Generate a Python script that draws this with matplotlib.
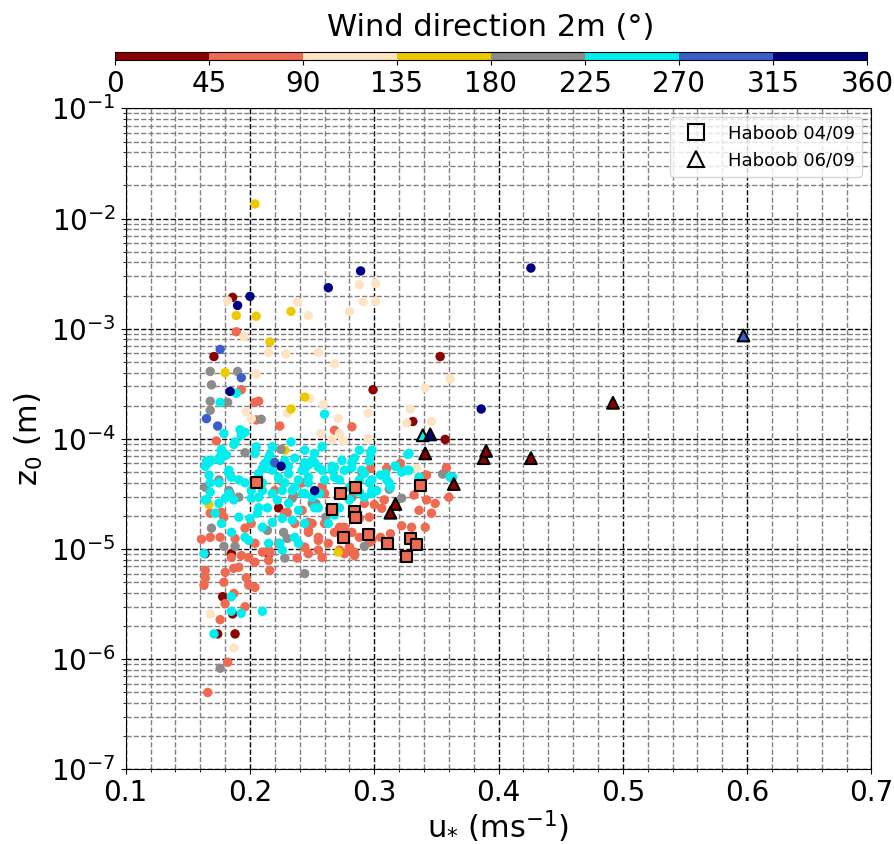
import numpy as np
import matplotlib
matplotlib.use("Agg")
import matplotlib.pyplot as plt
from matplotlib.colors import ListedColormap, BoundaryNorm
from matplotlib.lines import Line2D
from matplotlib.ticker import MultipleLocator, LogLocator, NullFormatter

# wind direction sectors (deg) and their colours
sector_edges = [0, 45, 90, 135, 180, 225, 270, 315, 360]
sector_colors = ['#8b0000', '#ee6a50', '#ffe4c4', '#eec900',
                 '#8c8c8c', '#00eeee', '#3a5fcd', '#000080']

# ---- u* (m/s) and z0 (m), grouped by wind-direction sector ----
# 0-45
u_000 = [0.186, 0.171, 0.353, 0.299, 0.331, 0.357, 0.223, 0.164, 0.185, 0.215,
         0.178, 0.186, 0.174, 0.188]
z_000 = [1.93e-3, 5.6e-4, 5.6e-4, 2.8e-4, 1.44e-4, 9.9e-5, 2.37e-5, 9.1e-6, 9.1e-6, 9.0e-6,
         3.7e-6, 2.58e-6, 1.7e-6, 1.7e-6]
# 45-90
u_045 = [0.189, 0.193, 0.204, 0.207, 0.205, 0.224, 0.173, 0.215, 0.282, 0.268, 0.358, 0.321,
         0.168, 0.177, 0.179, 0.176, 0.161, 0.168, 0.188, 0.196, 0.201,
         0.220, 0.230, 0.242, 0.247, 0.247, 0.244, 0.238,
         0.193, 0.199, 0.204, 0.191, 0.187, 0.180, 0.164, 0.164, 0.163, 0.179, 0.197, 0.199,
         0.204, 0.215, 0.216, 0.210, 0.216, 0.187, 0.180, 0.196, 0.176, 0.182, 0.166,
         0.228, 0.236, 0.255, 0.260, 0.272, 0.276, 0.280, 0.284, 0.272, 0.255, 0.247, 0.223,
         0.215, 0.204, 0.185,
         0.242, 0.258, 0.292, 0.300, 0.308, 0.306, 0.296, 0.288, 0.276, 0.268, 0.282, 0.250,
         0.247, 0.255, 0.244, 0.258, 0.280, 0.284, 0.296, 0.305, 0.313, 0.322, 0.330, 0.341,
         0.336, 0.342, 0.349, 0.332, 0.360, 0.346, 0.342, 0.298, 0.288, 0.263, 0.276,
         0.235, 0.260, 0.290, 0.310, 0.297, 0.226]
z_045 = [9.4e-4, 2.8e-4, 2.15e-4, 2.2e-4, 1.49e-4, 1.31e-4, 9.6e-5, 6.3e-5, 1.29e-4, 1.2e-4, 5.5e-5, 6.0e-5,
         2.12e-5, 2.16e-5, 1.95e-5, 1.28e-5, 1.23e-5, 1.28e-5, 1.25e-5, 1.55e-5, 1.71e-5,
         3.4e-5, 2.16e-5, 2.25e-5, 1.75e-5, 1.48e-5, 1.04e-5, 8.3e-6,
         8.75e-6, 8.4e-6, 7.6e-6, 6.85e-6, 6.7e-6, 6.15e-6, 6.4e-6, 5.45e-6, 4.7e-6, 5.0e-6, 5.5e-6, 4.7e-6,
         4.5e-6, 7.9e-6, 6.4e-6, 9.4e-6, 9.4e-6, 3.96e-6, 3.2e-6, 3.0e-6, 2.29e-6, 9.4e-7, 5.0e-7,
         2.12e-5, 1.71e-5, 1.2e-5, 1.71e-5, 1.58e-5, 1.28e-5, 1.04e-5, 9.4e-6, 9.8e-6, 9.8e-6, 9.1e-6, 1.13e-5,
         9.8e-6, 1.13e-5, 8.4e-6,
         4.0e-5, 3.65e-5, 2.6e-5, 2.54e-5, 2.8e-5, 2.35e-5, 1.95e-5, 1.9e-5, 1.58e-5, 1.42e-5, 1.42e-5, 1.71e-5,
         1.42e-5, 1.28e-5, 1.04e-5, 8.4e-6, 1.04e-5, 8.75e-6, 1.15e-5, 1.28e-5, 1.38e-5, 1.63e-5, 1.58e-5, 1.58e-5,
         2.25e-5, 2.8e-5, 2.6e-5, 3.1e-5, 2.96e-5, 2.12e-5, 4.7e-5, 1.2e-5, 1.28e-5, 1.13e-5, 9.1e-6,
         3.1e-5, 3.2e-5, 4.95e-5, 5.4e-5, 5.4e-5, 4.1e-5]
# 90-135
u_090 = [0.288, 0.301, 0.182, 0.238, 0.247, 0.280, 0.291, 0.301, 0.195, 0.215, 0.229, 0.255,
         0.268, 0.361, 0.205, 0.341, 0.248, 0.230, 0.197, 0.201, 0.259, 0.271, 0.295, 0.272,
         0.257, 0.275, 0.266, 0.295, 0.329, 0.326, 0.346, 0.205, 0.230, 0.334, 0.205, 0.168, 0.187]
z_090 = [2.52e-3, 2.58e-3, 1.79e-3, 1.75e-3, 1.32e-3, 1.44e-3, 1.75e-3, 1.78e-3, 8.5e-4, 6.1e-4, 5.9e-4, 6.1e-4,
         4.8e-4, 3.5e-4, 3.9e-4, 2.9e-4, 2.34e-4, 1.72e-4, 1.77e-4, 1.53e-4, 2.06e-4, 1.53e-4, 1.72e-4, 1.12e-4,
         1.12e-4, 9.6e-5, 9.8e-5, 1.01e-4, 1.87e-4, 1.4e-4, 1.44e-4, 7.15e-5, 4.5e-5, 5.4e-5, 2.7e-5, 2.58e-6, 1.27e-6]
# 135-180
u_135 = [0.204, 0.189, 0.205, 0.233, 0.216, 0.180, 0.244, 0.233, 0.228, 0.167, 0.271]
z_135 = [1.36e-2, 1.32e-3, 1.30e-3, 1.44e-3, 7.6e-4, 4.0e-4, 2.4e-4, 1.87e-4, 7.9e-5, 2.54e-5, 9.4e-6]
# 180-225
u_180 = [0.168, 0.190, 0.169, 0.168, 0.182, 0.168, 0.209, 0.196, 0.225, 0.164, 0.175, 0.183,
         0.184, 0.191, 0.169, 0.214, 0.227, 0.230, 0.228, 0.244, 0.179, 0.188, 0.176, 0.253,
         0.261, 0.282, 0.322, 0.292, 0.355, 0.312, 0.234, 0.250]
z_180 = [4.1e-4, 4.1e-4, 3.1e-4, 2.2e-4, 2.15e-4, 1.82e-4, 1.51e-4, 7.5e-5, 8.05e-5, 3.65e-5, 4.25e-5, 3.4e-5,
         3.2e-5, 2.96e-5, 1.55e-5, 1.48e-5, 1.42e-5, 1.25e-5, 8.3e-6, 6.0e-6, 1.06e-5, 1.06e-5, 8.3e-7, 2.6e-5,
         1.95e-5, 2.96e-5, 2.9e-5, 1.06e-5, 4.8e-5, 3.5e-5, 2.9e-5, 2.6e-5]
# 225-270
u_225 = [0.189, 0.176, 0.179, 0.192, 0.196, 0.188, 0.187, 0.177, 0.181, 0.176, 0.165, 0.169,
         0.205, 0.218, 0.216, 0.215, 0.210, 0.233, 0.231, 0.244, 0.247, 0.260, 0.327, 0.363,
         0.167, 0.176, 0.183, 0.167, 0.175, 0.168, 0.164, 0.180, 0.187, 0.177, 0.185, 0.191,
         0.200, 0.206, 0.196, 0.199, 0.210, 0.218, 0.215, 0.224, 0.226, 0.236, 0.239,
         0.211, 0.218, 0.223, 0.231, 0.242, 0.247, 0.210, 0.218, 0.226, 0.236, 0.244, 0.214,
         0.222, 0.231, 0.239, 0.226, 0.234, 0.244, 0.207, 0.201, 0.207,
         0.163, 0.185, 0.185, 0.193, 0.210, 0.171,
         0.244, 0.252, 0.258, 0.247, 0.266, 0.268, 0.276, 0.282, 0.292, 0.296, 0.288, 0.305,
         0.310, 0.313, 0.317, 0.322, 0.328, 0.242, 0.250, 0.256, 0.272, 0.268, 0.255, 0.263,
         0.280, 0.288, 0.292, 0.298, 0.302, 0.252,
         0.282, 0.290, 0.297, 0.296, 0.280, 0.272, 0.266, 0.260, 0.255, 0.250, 0.243, 0.239,
         0.234, 0.228, 0.223, 0.212, 0.207, 0.210, 0.201, 0.196, 0.191, 0.185, 0.183, 0.204,
         0.215, 0.228, 0.236, 0.244, 0.252, 0.258, 0.268, 0.274, 0.284, 0.298, 0.309, 0.312,
         0.317, 0.328, 0.326, 0.336, 0.288, 0.298, 0.361, 0.336, 0.338, 0.298,
         0.164, 0.177, 0.193, 0.168, 0.165, 0.175, 0.172, 0.183]
z_225 = [2.6e-4, 2.15e-4, 1.12e-4, 1.21e-4, 1.15e-4, 9.4e-5, 8.9e-5, 8.05e-5, 7.15e-5, 6.9e-5, 6.3e-5, 6.4e-5,
         8.5e-5, 8.5e-5, 7.15e-5, 6.1e-5, 5.4e-5, 9.4e-5, 5.65e-5, 5.4e-5, 5.8e-5, 1.68e-4, 7.25e-5, 4.5e-5,
         6.1e-5, 6.4e-5, 4.85e-5, 4.7e-5, 4.0e-5, 3.3e-5, 2.8e-5, 2.9e-5, 2.8e-5, 1.71e-5, 1.42e-5, 1.95e-5,
         1.9e-5, 2.12e-5, 1.28e-5, 1.2e-5, 1.58e-5, 1.75e-5, 1.13e-5, 1.13e-5, 9.8e-6, 1.28e-5, 1.13e-5,
         5.4e-5, 5.2e-5, 4.4e-5, 4.85e-5, 5.2e-5, 4.0e-5, 3.4e-5, 3.2e-5, 3.4e-5, 3.65e-5, 3.2e-5, 2.37e-5,
         2.8e-5, 2.6e-5, 2.25e-5, 1.9e-5, 1.83e-5, 1.71e-5, 2.96e-5, 2.9e-5, 2.37e-5,
         9.1e-6, 3.7e-6, 2.73e-6, 2.62e-6, 2.73e-6, 1.7e-6,
         6.1e-5, 6.1e-5, 5.2e-5, 4.5e-5, 5.65e-5, 4.5e-5, 5.2e-5, 6.1e-5, 4.85e-5, 4.0e-5, 4.25e-5, 4.7e-5,
         4.25e-5, 3.65e-5, 5.65e-5, 5.0e-5, 5.2e-5, 3.2e-5, 2.96e-5, 3.2e-5, 2.37e-5, 2.04e-5, 2.37e-5, 1.71e-5,
         2.8e-5, 3.3e-5, 2.96e-5, 3.2e-5, 3.4e-5, 2.37e-5,
         5.5e-5, 5.2e-5, 7.4e-5, 6.3e-5, 3.65e-5, 4.25e-5, 5.2e-5, 4.25e-5, 5.55e-5, 6.4e-5, 5.2e-5, 4.25e-5,
         3.4e-5, 4.0e-5, 4.5e-5, 6.0e-5, 4.85e-5, 4.0e-5, 3.4e-5, 4.0e-5, 4.25e-5, 4.5e-5, 5.2e-5, 7.4e-5,
         6.7e-5, 6.4e-5, 6.7e-5, 7.9e-5, 7.4e-5, 8.5e-5, 5.5e-5, 6.4e-5, 6.7e-5, 4.25e-5, 4.85e-5, 4.0e-5,
         5.7e-5, 7.4e-5, 5.2e-5, 4.5e-5, 7.9e-5, 7.9e-5, 4.5e-5, 4.4e-5, 4.0e-5, 3.4e-5,
         5.65e-5, 7.9e-5, 1.08e-4, 4.0e-5, 2.8e-5, 2.6e-5, 2.12e-5, 3.2e-5]
# 270-315
u_270 = [0.176, 0.193, 0.165, 0.174, 0.220]
z_270 = [6.5e-4, 3.6e-4, 1.53e-4, 1.31e-4, 6.1e-5]
# 315-360
u_315 = [0.289, 0.263, 0.426, 0.200, 0.190, 0.184, 0.225, 0.252, 0.386]
z_315 = [3.35e-3, 2.36e-3, 3.56e-3, 1.97e-3, 1.63e-3, 2.7e-4, 5.65e-5, 3.4e-5, 1.87e-4]

# Haboob 04/09 (squares)
u_hab1 = [0.205, 0.273, 0.285, 0.266, 0.284, 0.285, 0.275, 0.295, 0.311, 0.329, 0.334, 0.326, 0.337]
z_hab1 = [4.0e-5, 3.2e-5, 3.65e-5, 2.29e-5, 2.2e-5, 1.95e-5, 1.27e-5, 1.37e-5, 1.12e-5, 1.24e-5, 1.11e-5,
          8.6e-6, 3.8e-5]
wd_hab1 = [67] * 13
# Haboob 06/09 (triangles)
u_hab2 = [0.341, 0.388, 0.390, 0.426, 0.492, 0.364, 0.317, 0.313, 0.339, 0.345, 0.597]
z_hab2 = [7.4e-5, 6.7e-5, 7.8e-5, 6.7e-5, 2.13e-4, 3.9e-5, 2.57e-5, 2.14e-5, 1.08e-4, 1.1e-4, 8.7e-4]
wd_hab2 = [20, 20, 20, 20, 20, 20, 20, 20, 250, 340, 290]

groups = [(u_000, z_000, 22), (u_045, z_045, 67), (u_090, z_090, 112), (u_135, z_135, 157),
          (u_180, z_180, 202), (u_225, z_225, 247), (u_270, z_270, 292), (u_315, z_315, 337)]

cmap = ListedColormap(sector_colors)
norm = BoundaryNorm(sector_edges, cmap.N)

fig = plt.figure(figsize=(8.94, 8.44), dpi=100)
ax = fig.add_axes([0.1406, 0.0883, 0.8342, 0.7832])

for u, z, wd in groups:
    ax.scatter(u, z, c=[wd] * len(u), cmap=cmap, norm=norm, s=46, linewidths=0, zorder=3)

ax.scatter(u_hab1, z_hab1, c=wd_hab1, cmap=cmap, norm=norm, marker='s', s=62,
           edgecolors='k', linewidths=1.5, zorder=4)
ax.scatter(u_hab2, z_hab2, c=wd_hab2, cmap=cmap, norm=norm, marker='^', s=72,
           edgecolors='k', linewidths=1.5, zorder=5)

ax.set_yscale('log')
ax.set_xlim(0.1, 0.7)
ax.set_ylim(1e-7, 1e-1)
ax.xaxis.set_major_locator(MultipleLocator(0.1))
ax.xaxis.set_minor_locator(MultipleLocator(0.02))
ax.yaxis.set_major_locator(LogLocator(base=10, numticks=20))
ax.yaxis.set_minor_locator(LogLocator(base=10, subs=np.arange(2, 10), numticks=20))
ax.yaxis.set_minor_formatter(NullFormatter())
ax.tick_params(labelsize=20)
ax.set_axisbelow(True)
ax.grid(which='major', color='k', linestyle='--', linewidth=1)
ax.grid(which='minor', color='gray', linestyle='--', linewidth=1)

ax.set_xlabel(r'u$_{*}$ (ms$^{-1}$)', fontsize=22, labelpad=1)
ax.set_ylabel(r'z$_0$ (m)', fontsize=22)

handles = [Line2D([], [], marker='s', linestyle='none', mfc='none', mec='k', ms=11, mew=1.5,
                  label='Haboob 04/09'),
           Line2D([], [], marker='^', linestyle='none', mfc='none', mec='k', ms=11, mew=1.5,
                  label='Haboob 06/09')]
ax.legend(handles=handles, loc='upper right', fontsize=13)

cax = fig.add_axes([0.1286, 0.9286, 0.8412, 0.0095])
sm = plt.cm.ScalarMappable(cmap=cmap, norm=norm)
cb = fig.colorbar(sm, cax=cax, orientation='horizontal', ticks=sector_edges)
cb.ax.tick_params(labelsize=20)
cb.ax.set_title('Wind direction 2m (°)', fontsize=22, pad=12)

fig.savefig('out.png', dpi=100)
